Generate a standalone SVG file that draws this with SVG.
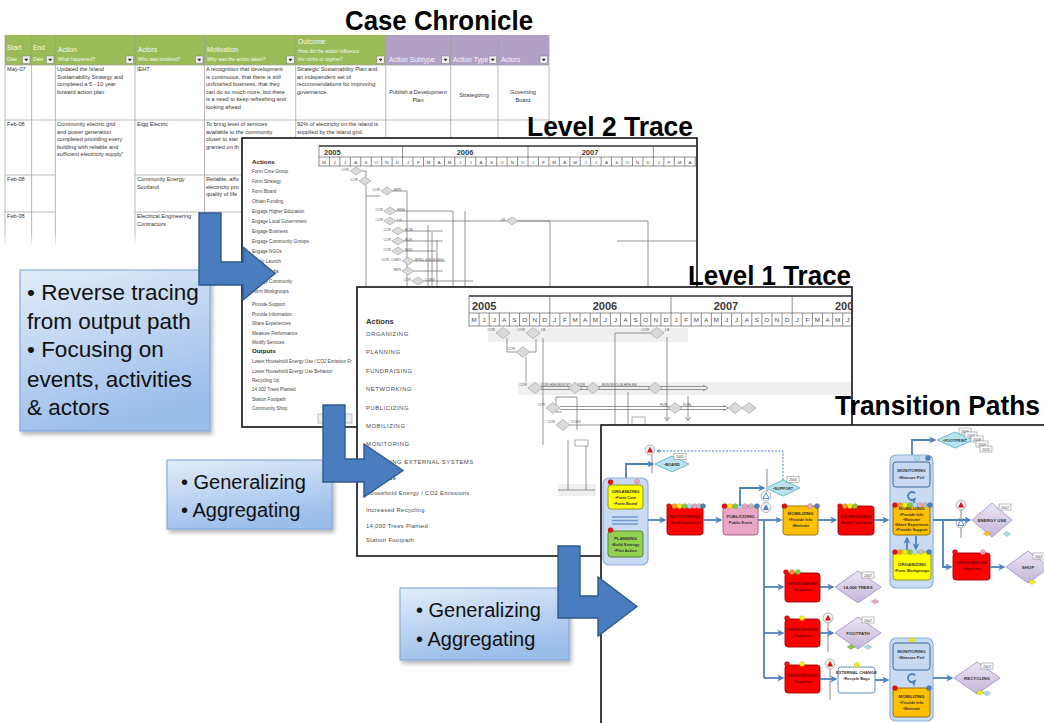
<svg xmlns="http://www.w3.org/2000/svg" width="1044" height="723" viewBox="0 0 1044 723">
<defs>
<style>
text{font-family:"Liberation Sans",Arial,sans-serif}
.title{font-weight:bold;fill:#000;font-size:27px}
.tx{font-size:5.6px;fill:#333}
.tc{font-size:5.6px;fill:#333;text-anchor:middle}
.h1{font-size:6.8px;fill:#f6f9ee}
.h2{font-size:4.9px;fill:#f6f9ee}
.hp{font-size:6.8px;fill:#f7f4fb}
.grid{stroke:#9c9c9c;stroke-width:0.7;fill:none}
.panel{fill:#fff;stroke:#111;stroke-width:1.6}
.l2{font-size:4.6px;fill:#444}
.l2b{font-size:6.2px;fill:#222;font-weight:bold}
.l1{font-size:5.9px;fill:#4a4a4a;letter-spacing:0.55px}
.l1b{font-size:7.6px;fill:#333;font-weight:bold}
.tl{fill:#fff;stroke:#444;stroke-width:0.6}
.tlt{stroke:#444;stroke-width:1.4}
.yr{font-weight:bold;fill:#3a3a3a}
.mo{fill:#444;text-anchor:middle}
.dg{fill:#dadada;stroke:#9a9a9a;stroke-width:0.6}
.dl{font-size:3.4px;fill:#555}
.dle{font-size:3.4px;fill:#555;text-anchor:end}
.gl{stroke:#7a7a7a;stroke-width:0.8;fill:none}
.band{fill:#efefef}
.note{fill:url(#noteGrad);stroke:#7aa0d4;stroke-width:1;filter:url(#soft)}
.nt{fill:#111}
.big{fill:#4a7dbd;stroke:#2f5a8f;stroke-width:1.4}
.con{stroke:#4f81bd;stroke-width:1.8;fill:none;marker-end:url(#ah)}
.conl{stroke:#4f81bd;stroke-width:1.8;fill:none}
.dash{stroke-width:1;stroke-dasharray:2 1.5}
.grp{fill:#c9dbf2;stroke:#8fb1dc;stroke-width:1.2}
.nred{fill:#ff0000;stroke:#a00000;stroke-width:0.9}
.nyel{fill:#ffff00;stroke:#8a8a1a;stroke-width:0.9}
.ngrn{fill:#92d050;stroke:#4f7a28;stroke-width:0.9}
.norg{fill:#ffc000;stroke:#8f6a00;stroke-width:0.9}
.npnk{fill:#eca6c8;stroke:#a5587a;stroke-width:0.9}
.nblu{fill:#c6d9f1;stroke:#2f5a8f;stroke-width:0.9}
.nwht{fill:#fff;stroke:#4f81bd;stroke-width:0.9}
.dcy{fill:#b9e3ef;stroke:#4bacc6;stroke-width:0.8}
.dlv{fill:url(#lavGrad);stroke:#9d8cbf;stroke-width:0.8}
.nx{font-size:4.4px;font-weight:bold;text-anchor:middle;fill:#333}
.nb{font-size:3.9px;font-weight:bold;text-anchor:middle;fill:#333}
.rx{fill:#6b0000}
.tag{fill:#fff;stroke:#777;stroke-width:0.5}
.tgt{font-size:3.6px;fill:#444;text-anchor:middle}
.pole{stroke:#c4c4c4;stroke-width:2;fill:none}
.ic{fill:#f4f4f4;stroke:#9a9a9a;stroke-width:0.7}
.kr{fill:#e31010}.ko{fill:#f59a2b}.ky{fill:#f2ee0c}.kg{fill:#8cc63f}.kc{fill:#a9dcea}.kp{fill:#e9a3c0}.ks{fill:#bdbdbd}.kb{fill:#4f81bd}
.dot{stroke:rgba(0,0,0,0.25);stroke-width:0.4}
</style>
<linearGradient id="noteGrad" x1="0" y1="0" x2="0.35" y2="1">
<stop offset="0" stop-color="#e2edfa"/>
<stop offset="1" stop-color="#9cbeea"/>
</linearGradient>
<linearGradient id="lavGrad" x1="0" y1="0" x2="0" y2="1">
<stop offset="0" stop-color="#ece6f4"/>
<stop offset="1" stop-color="#c4b5db"/>
</linearGradient>
<linearGradient id="fade" x1="0" y1="0" x2="0" y2="1">
<stop offset="0" stop-color="#fff" stop-opacity="0"/>
<stop offset="1" stop-color="#fff" stop-opacity="1"/>
</linearGradient>
<filter id="soft" x="-10%" y="-10%" width="125%" height="130%">
<feDropShadow dx="2" dy="3" stdDeviation="2" flood-color="#000" flood-opacity="0.3"/>
</filter>
<marker id="ah" viewBox="0 0 10 10" refX="8" refY="5" markerWidth="4" markerHeight="4" orient="auto">
<path d="M0 0L10 5L0 10L3 5Z" fill="#4f81bd"/>
</marker>
<g id="dd"><rect width="7.5" height="7.5" fill="#f0f0f0" stroke="#7a7a7a" stroke-width="0.5"/><path d="M1.8 2.8h4l-2 2.4z" fill="#222"/></g>
<path id="d2" d="M-6 0L0-4L6 0L0 4Z" class="dg"/>
<path id="d1" d="M-7 0L0-5.5L7 0L0 5.5Z" class="dg"/>
<path id="sd" d="M-4 0L0-2.6L4 0L0 2.6Z" stroke="rgba(0,0,0,0.3)" stroke-width="0.4"/>
<clipPath id="clipL2"><rect x="243" y="139" width="453" height="287"/></clipPath>
<clipPath id="clipL1"><rect x="358" y="288" width="493" height="267"/></clipPath>
<clipPath id="clipTP"><rect x="602" y="426" width="442" height="297"/></clipPath>
</defs>

<rect width="1044" height="723" fill="#fff"/>

<!-- spreadsheet of recorded actions -->
<g id="case-chronicle">
<rect x="5" y="35" width="380.8" height="30" fill="#9bbb59"/>
<rect x="385.8" y="35" width="163.2" height="30" fill="#b2a1c7"/>
<path class="grid" d="M5 65H549M5 120H549M5 175H55.4M135 175H549M5 212H55.4M135 212H549M5 35V245M31.6 35V245M55.4 35V245M135 35V245M204.5 35V245M295.7 35V245M385.8 35V245M450.7 35V245M498 35V245M549 35V245"/>
<text class="h1" x="7" y="50">Start</text><text class="h2" x="7" y="61">Date</text>
<text class="h1" x="33" y="50">End</text><text class="h2" x="33" y="61">Date</text>
<text class="h1" x="58" y="52">Action</text><text class="h2" x="58" y="61">What happened?</text>
<text class="h1" x="138" y="52">Actors</text><text class="h2" x="138" y="61">Who was involved?</text>
<text class="h1" x="207" y="52">Motivation</text><text class="h2" x="207" y="61">Why was the action taken?</text>
<text class="h1" x="298" y="44">Outcome</text><text class="h2" x="298" y="53">How did the action influence</text><text class="h2" x="298" y="61">the niche or regime?</text>
<text class="hp" x="389" y="62">Action Subtype</text>
<text class="hp" x="453" y="62">Action Type</text>
<text class="hp" x="501" y="62">Actors</text>
<use href="#dd" x="22.5" y="56"/><use href="#dd" x="46.4" y="56"/><use href="#dd" x="126" y="56"/><use href="#dd" x="195.5" y="56"/><use href="#dd" x="286.7" y="56"/><use href="#dd" x="376.8" y="56"/><use href="#dd" x="441.7" y="56"/><use href="#dd" x="489" y="56"/><use href="#dd" x="540" y="56"/>
<text class="tx" x="7" y="71">May-07</text>
<text class="tx" x="57" y="71">Updated the Island</text>
<text class="tx" x="57" y="78.5">Sustainability Strategy and</text>
<text class="tx" x="57" y="86">completed a 5 - 10 year</text>
<text class="tx" x="57" y="93.5">forward action plan</text>
<text class="tx" x="137" y="71">IEHT</text>
<text class="tx" x="206" y="71">A recognition that development</text>
<text class="tx" x="206" y="78.5">is continuous, that there is still</text>
<text class="tx" x="206" y="86">unfinished business, that they</text>
<text class="tx" x="206" y="93.5">can do so much more, but there</text>
<text class="tx" x="206" y="101">is a need to keep refreshing and</text>
<text class="tx" x="206" y="108.5">looking ahead.</text>
<text class="tx" x="297" y="71">Strategic Sustainability Plan and</text>
<text class="tx" x="297" y="78.5">an independent set of</text>
<text class="tx" x="297" y="86">recommendations for improving</text>
<text class="tx" x="297" y="93.5">governance.</text>
<text class="tc" x="418" y="94">Publish a Development</text>
<text class="tc" x="418" y="101.5">Plan</text>
<text class="tc" x="474" y="97">Strategizing</text>
<text class="tc" x="523" y="94">Governing</text>
<text class="tc" x="523" y="101.5">Board</text>
<text class="tx" x="7" y="126">Feb-08</text>
<text class="tx" x="57" y="126">Community electric grid</text>
<text class="tx" x="57" y="133.5">and power generation</text>
<text class="tx" x="57" y="141">completed providing every</text>
<text class="tx" x="57" y="148.5">building with reliable and</text>
<text class="tx" x="57" y="156">sufficient electricity supply"</text>
<text class="tx" x="137" y="126">Eigg Electric</text>
<text class="tx" x="206" y="126">To bring level of services</text>
<text class="tx" x="206" y="133.5">available to the community</text>
<text class="tx" x="206" y="141">closer to star</text>
<text class="tx" x="206" y="148.5">granted on th</text>
<text class="tx" x="297" y="126">92% of electricity on the island is</text>
<text class="tx" x="297" y="133.5">supplied by the island grid.</text>
<text class="tx" x="7" y="181">Feb-08</text>
<text class="tx" x="137" y="181">Community Energy</text>
<text class="tx" x="137" y="188.5">Scotland</text>
<text class="tx" x="206" y="181">Reliable, affo</text>
<text class="tx" x="206" y="188.5">electricity pro</text>
<text class="tx" x="206" y="196">quality of life</text>
<text class="tx" x="7" y="218">Feb-08</text>
<text class="tx" x="137" y="218">Electrical Engineering</text>
<text class="tx" x="137" y="225.5">Contractors</text>
<rect x="0" y="232" width="555" height="16" fill="url(#fade)"/>
</g>
<g id="title-case-chronicle"><text class="title" x="345" y="30" textLength="188" lengthAdjust="spacingAndGlyphs">Case Chronicle</text></g>

<!-- level 2 trace panel -->
<g id="level2-trace">
<rect class="panel" x="242" y="138" width="455" height="289"/>
<g clip-path="url(#clipL2)">
<rect class="tl" x="319" y="146" width="380" height="20"/>
<path class="tlt" d="M319 146H699"/>
<path class="tl" d="M319 157H699M402.6 146V166M528 146V166M653.4 146V166M329.45 157v9M339.9 157v9M350.35 157v9M360.8 157v9M371.25 157v9M381.7 157v9M392.15 157v9M413.05 157v9M423.5 157v9M433.95 157v9M444.4 157v9M454.85 157v9M465.3 157v9M475.75 157v9M486.2 157v9M496.65 157v9M507.1 157v9M517.55 157v9M538.45 157v9M548.9 157v9M559.35 157v9M569.8 157v9M580.25 157v9M590.7 157v9M601.15 157v9M611.6 157v9M622.05 157v9M632.5 157v9M642.95 157v9M663.85 157v9M674.3 157v9M684.75 157v9M695.2 157v9"/>
<text class="yr" x="324" y="154.5" font-size="7.5">2005</text>
<text class="yr" x="465" y="154.5" font-size="7.5" text-anchor="middle">2006</text>
<text class="yr" x="590" y="154.5" font-size="7.5" text-anchor="middle">2007</text>
<text class="mo" font-size="4.4" y="163.6" x="324.2 334.7 345.1 355.6 366.0 376.5 386.9 397.4 407.8 418.3 428.7 439.2 449.6 460.1 470.5 481.0 491.4 501.9 512.3 522.8 533.2 543.7 554.1 564.6 575.0 585.5 595.9 606.4 616.8 627.3 637.7 648.2 658.6 669.1 679.5 690.0">MJJASONDJFMAMJJASONDJFMAMJJASONDJFMA</text>
<text class="l2b" x="252" y="164">Actions</text>
<text class="l2" x="252" y="172.5">Form Core Group</text>
<text class="l2" x="252" y="182.5">Form Strategy</text>
<text class="l2" x="252" y="192.5">Form Board</text>
<text class="l2" x="252" y="202.5">Obtain Funding</text>
<text class="l2" x="252" y="212.5">Engage Higher Education</text>
<text class="l2" x="252" y="222.5">Engage Local Government</text>
<text class="l2" x="252" y="232.5">Engage Business</text>
<text class="l2" x="252" y="242.5">Engage Community Groups</text>
<text class="l2" x="252" y="252.5">Engage NGOs</text>
<text class="l2" x="252" y="262.5">Public Launch</text>
<text class="l2" x="252" y="272.5">Social Media</text>
<text class="l2" x="252" y="282.5">Engage Community</text>
<text class="l2" x="252" y="292.5">Form Workgroups</text>
<text class="l2" x="252" y="305.5">Provide Support</text>
<text class="l2" x="252" y="315.5">Provide Information</text>
<text class="l2" x="252" y="324.5">Share Experiences</text>
<text class="l2" x="252" y="334.5">Measure Performance</text>
<text class="l2" x="252" y="343.5">Modify Services</text>
<text class="l2b" x="252" y="353">Outputs</text>
<text class="l2" x="252" y="362.5">Lower Household Energy Use / CO2 Emission Fr</text>
<text class="l2" x="252" y="372.5">Lower Household Energy Use Behavior</text>
<text class="l2" x="252" y="381.5">Recycling Up</text>
<text class="l2" x="252" y="390.5">14,000 Trees Planted</text>
<text class="l2" x="252" y="400.5">Station Footpath</text>
<text class="l2" x="252" y="409.5">Community Shop</text>
<rect x="318" y="414" width="34" height="9" fill="#eee" stroke="#999" stroke-width="0.6"/>
<path class="gl" d="M362 171H366V177M366 185V300M393 191H407V300M396 211H453V300M396 221H550V300M518 221H648V287M404 231H443M404 241H443M404 251H436M414 261H445M414 271H443M424 281H473M617 241H697M428 225V300M432 232V300M437 240V300M465 211V300M366 196H380"/>
<use href="#d2" x="356" y="171"/><use href="#d2" x="365" y="181"/><use href="#d2" x="387" y="191"/><use href="#d2" x="390" y="211"/><use href="#d2" x="390" y="221"/><use href="#d2" x="398" y="231"/><use href="#d2" x="398" y="241"/><use href="#d2" x="398" y="251"/><use href="#d2" x="408" y="261"/><use href="#d2" x="408" y="271"/><use href="#d2" x="418" y="281"/><use href="#d2" x="512" y="221"/>
<text class="dle" x="349" y="170.5">COR</text>
<text class="dle" x="358" y="180.5">COR</text>
<text class="dle" x="380" y="190.5">COR</text><text class="dl" x="394" y="190.5">BRN</text>
<text class="dle" x="383" y="210.5">COR</text><text class="dl" x="397" y="210.5">HRH</text>
<text class="dle" x="383" y="220.5">COR</text><text class="dl" x="397" y="220.5">LG</text>
<text class="dle" x="391" y="230.5">COR</text><text class="dl" x="405" y="230.5">BCM</text>
<text class="dle" x="391" y="240.5">COR</text><text class="dl" x="405" y="240.5">BUS</text>
<text class="dle" x="391" y="250.5">COR</text><text class="dl" x="405" y="250.5">NGO</text>
<text class="dle" x="401" y="260.5">COR, CGRO</text><text class="dl" x="415" y="260.5">BRN,LG,BUS,NGO</text>
<text class="dle" x="401" y="270.5">BRN</text>
<text class="dle" x="411" y="280.5">COR</text><text class="dl" x="425" y="280.5">CONV</text>
<text class="dle" x="505" y="220.5">LB</text>
</g>
</g>
<g id="title-level2"><text class="title" x="527" y="136" textLength="166" lengthAdjust="spacingAndGlyphs">Level 2 Trace</text></g>

<!-- note: reverse tracing -->
<g id="note-reverse">
<rect class="note" x="20" y="270" width="190" height="161"/>
<text class="nt" font-size="22.5" x="27" y="300">• Reverse tracing</text>
<text class="nt" font-size="22.5" x="27" y="329">from output path</text>
<text class="nt" font-size="22.5" x="27" y="357">• Focusing on</text>
<text class="nt" font-size="22.5" x="27" y="387">events, activities</text>
<text class="nt" font-size="22.5" x="27" y="415">&amp; actors</text>
</g>

<g id="flow-arrow-1"><path class="big" d="M199 213H221V262H243V247L275 273.5L243 300V285H199Z"/></g>

<!-- level 1 trace panel -->
<g id="level1-trace">
<rect class="panel" x="357" y="287" width="495" height="269"/>
<g clip-path="url(#clipL1)">
<rect class="band" x="488" y="328" width="200" height="14"/>
<rect class="band" x="518" y="382" width="334" height="13"/>
<rect class="band" x="558" y="484" width="38" height="12"/>
<rect class="tl" x="469" y="296" width="390" height="30"/>
<path class="tlt" d="M469 296H860"/>
<path class="tl" d="M469 313H860M549.8 296V326M671 296V326M792.2 296V326M479.1 313v13M489.2 313v13M499.3 313v13M509.4 313v13M519.5 313v13M529.6 313v13M539.7 313v13M559.9 313v13M570 313v13M580.1 313v13M590.2 313v13M600.3 313v13M610.4 313v13M620.5 313v13M630.6 313v13M640.7 313v13M650.8 313v13M660.9 313v13M681.1 313v13M691.2 313v13M701.3 313v13M711.4 313v13M721.5 313v13M731.6 313v13M741.7 313v13M751.8 313v13M761.9 313v13M772 313v13M782.1 313v13M802.3 313v13M812.4 313v13M822.5 313v13M832.6 313v13M842.7 313v13"/>
<text class="yr" x="472" y="309.5" font-size="11">2005</text>
<text class="yr" x="605" y="309.5" font-size="11" text-anchor="middle">2006</text>
<text class="yr" x="726" y="309.5" font-size="11" text-anchor="middle">2007</text>
<text class="yr" x="835" y="309.5" font-size="11">2008</text>
<text class="mo" font-size="6.2" y="322.3" x="474.05 484.15 494.25 504.35 514.45 524.55 534.65 544.75 554.85 564.95 575.05 585.15 595.25 605.35 615.45 625.55 635.65 645.75 655.85 665.95 676.05 686.15 696.25 706.35 716.45 726.55 736.65 746.75 756.85 766.95 777.05 787.15 797.25 807.35 817.45 827.55 837.65 847.75">MJJASONDJFMAMJJASONDJFMAMJJASONDJFMAMJ</text>
<text class="l1b" x="366" y="324">Actions</text>
<text class="l1" x="366" y="335.5">ORGANIZING</text>
<text class="l1" x="366" y="354">PLANNING</text>
<text class="l1" x="366" y="372.5">FUNDRAISING</text>
<text class="l1" x="366" y="390.5">NETWORKING</text>
<text class="l1" x="366" y="409.5">PUBLICIZING</text>
<text class="l1" x="366" y="427.5">MOBILIZING</text>
<text class="l1" x="366" y="445.5">MONITORING</text>
<text class="l1" x="366" y="464">CHANGING EXTERNAL SYSTEMS</text>
<text class="l1" x="370" y="480" font-weight="bold">Outputs</text>
<text class="l1" x="366" y="495" style="letter-spacing:0.3px">Household Energy / CO2 Emissions</text>
<text class="l1" x="366" y="511.5" style="letter-spacing:0.3px">Increased Recycling</text>
<text class="l1" x="366" y="527.5" style="letter-spacing:0.3px">14,000 Trees Planted</text>
<text class="l1" x="366" y="541.5" style="letter-spacing:0.3px">Station Footpath</text>
<path class="gl" d="M507 338V352H516M530 352H536V339M526 357V382M543 338V445M615 333V445M615 333H650M667 337V420M688 396V420M628 392V425M568 440V490M586 440V490M558 490H595M556 412V397H577V430M556 412H562M570 425H600M541 386.5H706M541 389.5H706M560 406.5H726M560 409.5H726M703 385L708 388L703 391M723 405L728 408L723 411M664.5 417L667 421L669.5 417M685.5 417L688 421L690.5 417"/>
<rect x="632" y="417" width="13" height="8" fill="#fff" stroke="#777" stroke-width="0.6"/>
<rect x="575" y="440" width="13" height="6" fill="#fff" stroke="#777" stroke-width="0.6"/>
<use href="#d1" x="503" y="333"/><use href="#d1" x="533" y="333"/><use href="#d1" x="657" y="333"/><use href="#d1" x="523" y="352"/><use href="#d1" x="535" y="388"/><use href="#d1" x="575" y="388"/><use href="#d1" x="593" y="388"/><use href="#d1" x="655" y="388"/><use href="#d1" x="553" y="408"/><use href="#d1" x="675" y="408"/><use href="#d1" x="735" y="408"/><use href="#d1" x="749" y="408"/><use href="#d1" x="563" y="425"/>
<text class="dle" x="495" y="331">COR</text>
<text class="dle" x="525" y="331">COR</text><text class="dl" x="541" y="331">LB</text>
<text class="dle" x="649" y="331">COR</text><text class="dl" x="665" y="331">LB</text>
<text class="dle" x="515" y="350">COR</text>
<text class="dle" x="527" y="386">COR</text>
<text class="dl" x="541" y="386">COR,HRH,BUS,NT</text>
<text class="dle" x="585" y="386">COR</text>
<text class="dl" x="602" y="386">BUS,NGO,LB,HRH,EB</text>
<text class="dle" x="545" y="406">COR</text>
<text class="dle" x="667" y="406">PUB</text><text class="dl" x="683" y="406">PUBL</text>
<text class="dle" x="555" y="423">COR</text><text class="dl" x="571" y="423">CONV</text>
</g>
</g>
<g id="title-level1"><text class="title" x="688" y="285" textLength="163" lengthAdjust="spacingAndGlyphs">Level 1 Trace</text></g>
<g id="title-transition"><text class="title" x="835" y="415" textLength="205" lengthAdjust="spacingAndGlyphs">Transition Paths</text></g>

<g id="note-generalize-1">
<rect class="note" x="167" y="460" width="165" height="69"/>
<text class="nt" font-size="20" x="181" y="489">• Generalizing</text>
<text class="nt" font-size="20" x="181" y="517">• Aggregating</text>
</g>

<g id="flow-arrow-2"><path class="big" d="M323 405H345V459H364V444L403 470.5L364 497V482H323Z"/></g>

<!-- transition paths panel -->
<g id="transition-paths">
<rect class="panel" x="601" y="425" width="450" height="305"/>
<g clip-path="url(#clipTP)">

<g id="tp-start">
<rect class="grp" x="603" y="478" width="45" height="87" rx="6"/>
<rect class="nyel" x="608" y="485" width="35" height="24" rx="3"/>
<text class="nx" x="625.5" y="493">ORGANIZING</text>
<text class="nb" x="625.5" y="499">•Form Core</text>
<text class="nb" x="625.5" y="505">•Form Board</text>
<path d="M612 517H638M612 520.5H638M612 524H638" stroke="#6f9bd0" stroke-width="1.3"/>
<rect class="ngrn" x="608" y="531" width="35" height="26" rx="3"/>
<text class="nx" x="625.5" y="539.5">PLANNING</text>
<text class="nb" x="625.5" y="545.5">•Build Strategy</text>
<text class="nb" x="625.5" y="551.5">•Plan Action</text>
<circle class="dot kr" cx="610.5" cy="482" r="2.6"/><circle class="dot kp" cx="637" cy="481.5" r="2.6"/><circle class="dot kr" cx="610.5" cy="530" r="2.6"/>
</g>

<g id="tp-networking-1">
<rect class="nred" x="667" y="506" width="36" height="29" rx="3"/>
<text class="nx rx" x="685" y="518">NETWORKING</text>
<text class="nb rx" x="685" y="524">•Build Coalitions</text>
<circle class="dot kr" cx="669" cy="506" r="2.6"/><circle class="dot ko" cx="674.5" cy="506" r="2.6"/><circle class="dot ky" cx="679.5" cy="506" r="2.6"/><circle class="dot kg" cx="684.5" cy="506" r="2.6"/><circle class="dot kc" cx="689.5" cy="506" r="2.6"/><circle class="dot kp" cx="694.5" cy="506" r="2.6"/><circle class="dot ks" cx="699" cy="506" r="2.6"/><circle class="dot kb" cx="703" cy="506" r="2.6"/>
</g>

<g id="tp-publicizing">
<rect class="npnk" x="723" y="506" width="35" height="29" rx="3"/>
<text class="nx" x="740.5" y="518">PUBLICIZING</text>
<text class="nb" x="740.5" y="524">Public Event</text>
<circle class="dot kr" cx="724.5" cy="506" r="2.6"/><circle class="dot ky" cx="730" cy="506" r="2.6"/><circle class="dot kg" cx="735" cy="506" r="2.6"/><circle class="dot kc" cx="740" cy="506" r="2.6"/><circle class="dot kp" cx="745" cy="506" r="2.6"/><circle class="dot ks" cx="751" cy="506" r="2.6"/><circle class="dot kb" cx="757" cy="506" r="2.6"/>
</g>

<g id="tp-mobilizing-1">
<rect class="norg" x="783" y="506" width="35" height="29" rx="3"/>
<text class="nx" x="800.5" y="515">MOBILIZING</text>
<text class="nb" x="800.5" y="521">•Provide Info</text>
<text class="nb" x="800.5" y="527">•Motivate</text>
<circle class="dot kr" cx="784.5" cy="506" r="2.6"/><circle class="dot kp" cx="810" cy="506" r="2.6"/><circle class="dot kb" cx="817" cy="506" r="2.6"/>
</g>

<g id="tp-networking-2">
<rect class="nred" x="838" y="506" width="36" height="29" rx="3"/>
<text class="nx rx" x="856" y="518">NETWORKING</text>
<text class="nb rx" x="856" y="524">•Build Coalitions</text>
<circle class="dot kr" cx="840" cy="506" r="2.6"/><circle class="dot ko" cx="845" cy="506" r="2.6"/><circle class="dot ky" cx="850" cy="506" r="2.6"/><circle class="dot kg" cx="855" cy="506" r="2.6"/>
</g>

<g id="tp-cycle-1">
<rect class="grp" x="890" y="455" width="43" height="133" rx="6"/>
<rect class="nblu" x="893" y="462" width="37" height="25" rx="3"/>
<text class="nx" x="911.5" y="472">MONITORING</text>
<text class="nb" x="911.5" y="478.5">•Measure Perf</text>
<rect class="norg" x="893" y="505" width="37" height="30" rx="3"/>
<text class="nx" x="911.5" y="510">MOBILIZING</text>
<text class="nb" x="911.5" y="515.5">•Provide Info</text>
<text class="nb" x="911.5" y="520.5">•Motivate</text>
<text class="nb" x="911.5" y="525.5">•Share Experience</text>
<text class="nb" x="911.5" y="530.5">•Provide Support</text>
<rect class="nyel" x="893" y="552" width="38" height="28" rx="3"/>
<text class="nx" x="912" y="566">ORGANIZING</text>
<text class="nb" x="912" y="572">•Form Workgroups</text>
<path d="M915.1 493.4A4 4 0 1 0 915.1 498.6" stroke="#4f81bd" stroke-width="1.8" fill="none" marker-end="url(#ah)"/>
<circle class="dot kc" cx="917" cy="458" r="2.6"/><circle class="dot kb" cx="928" cy="458" r="2.6"/>
<circle class="dot kr" cx="895" cy="505" r="2.6"/><circle class="dot ko" cx="900" cy="505" r="2.6"/><circle class="dot ky" cx="905" cy="505" r="2.6"/><circle class="dot kg" cx="910" cy="505" r="2.6"/><circle class="dot kc" cx="915" cy="505" r="2.6"/><circle class="dot kp" cx="920" cy="505" r="2.6"/><circle class="dot ks" cx="925" cy="505" r="2.6"/><circle class="dot kb" cx="930" cy="505" r="2.6"/>
<circle class="dot kr" cx="895" cy="552" r="2.6"/><circle class="dot ko" cx="900" cy="552" r="2.6"/><circle class="dot ky" cx="905" cy="552" r="2.6"/><circle class="dot kg" cx="910" cy="552" r="2.6"/><circle class="dot kc" cx="915" cy="552" r="2.6"/><circle class="dot ks" cx="921" cy="552" r="2.6"/><circle class="dot kb" cx="929" cy="552" r="2.6"/>
</g>

<g id="tp-networking-shop">
<rect class="nred" x="953" y="553" width="37" height="27" rx="3"/>
<text class="nx rx" x="971.5" y="564">NETWORKING</text>
<text class="nb rx" x="971.5" y="570">•Negotiate</text>
<circle class="dot kr" cx="955" cy="552" r="2.6"/><circle class="dot kp" cx="983" cy="552" r="2.6"/>
</g>

<g id="tp-networking-3">
<rect class="nred" x="785" y="573" width="35" height="29" rx="3"/>
<text class="nx rx" x="802.5" y="585">NETWORKING</text>
<text class="nb rx" x="802.5" y="591">•Negotiate</text>
<circle class="dot kr" cx="786" cy="572" r="2.6"/><circle class="dot ko" cx="792" cy="572" r="2.6"/><circle class="dot kg" cx="798" cy="572" r="2.6"/>
</g>
<g id="tp-networking-4">
<rect class="nred" x="785" y="619" width="35" height="28" rx="3"/>
<text class="nx rx" x="802.5" y="631">NETWORKING</text>
<text class="nb rx" x="802.5" y="637">•Negotiate</text>
<circle class="dot kr" cx="787" cy="618" r="2.6"/><circle class="dot ky" cx="802" cy="618" r="2.6"/>
</g>
<g id="tp-networking-5">
<rect class="nred" x="785" y="665" width="35" height="28" rx="3"/>
<text class="nx rx" x="802.5" y="677">NETWORKING</text>
<text class="nb rx" x="802.5" y="683">•Negotiate</text>
<circle class="dot kr" cx="787" cy="664" r="2.6"/><circle class="dot ky" cx="802" cy="664" r="2.6"/>
</g>
<g id="tp-external-change">
<rect class="nwht" x="838" y="667" width="37" height="26" rx="3"/>
<text class="nx" x="856.5" y="673.5" style="font-size:4.1px">EXTERNAL CHANGE</text>
<text class="nb" x="856.5" y="680">•Recycle Bags</text>
<circle class="dot ky" cx="857" cy="665" r="2.6"/>
</g>
<g id="tp-cycle-2">
<rect class="grp" x="890" y="638" width="43" height="83" rx="6"/>
<rect class="nblu" x="893" y="643" width="37" height="27" rx="3"/>
<text class="nx" x="911.5" y="653">MONITORING</text>
<text class="nb" x="911.5" y="659">•Measure Perf</text>
<rect class="norg" x="893" y="688" width="37" height="29" rx="3"/>
<text class="nx" x="911.5" y="698">MOBILIZING</text>
<text class="nb" x="911.5" y="704">•Provide Info</text>
<text class="nb" x="911.5" y="710">•Motivate</text>
<path d="M915.1 675.4A4 4 0 1 0 915.1 680.6" stroke="#4f81bd" stroke-width="1.8" fill="none" marker-end="url(#ah)"/>
<circle class="dot ky" cx="912" cy="640" r="2.6"/><circle class="dot kr" cx="895" cy="688" r="2.6"/><circle class="dot kb" cx="929" cy="688" r="2.6"/>
</g>

<g id="tp-board"><path class="dcy" d="M655 464L672 456L689 464L672 472Z"/><text class="nb" x="672" y="465.5">•BOARD</text><rect class="tag" x="674" y="453.5" width="12" height="6"/><text class="tgt" x="680" y="458">2005</text></g>
<g id="tp-support"><path class="dcy" d="M766 488L783 480L800 488L783 496Z"/><text class="nb" x="783" y="489.5">•SUPPORT</text><rect class="tag" x="787" y="476.5" width="12" height="6"/><text class="tgt" x="793" y="481">2006</text></g>
<g id="tp-footprint"><path class="dcy" d="M937 440L955 432L973 440L955 448Z"/><text class="nb" x="955" y="441.5">•FOOTPRINT</text>
<rect class="tag" x="959" y="428" width="12" height="6"/><text class="tgt" x="965" y="432.5">2006</text>
<rect class="tag" x="965" y="432" width="12" height="6"/><text class="tgt" x="971" y="436.5">2007</text>
<rect class="tag" x="971" y="436" width="12" height="6"/><text class="tgt" x="977" y="440.5">2008</text>
<rect class="tag" x="976" y="441" width="12" height="6"/><text class="tgt" x="982" y="445.5">2009</text>
<rect class="tag" x="980" y="446" width="12" height="6"/><text class="tgt" x="986" y="450.5">2010</text></g>
<g id="tp-energy-use"><path class="dlv" d="M972 520L992 503L1012 520L992 537Z"/><text class="nx" x="992" y="521.5">ENERGY USE</text><rect class="tag" x="999" y="504" width="12" height="6"/><text class="tgt" x="1005" y="508.5">2007</text><use href="#sd" x="987" y="533.5" fill="#f7c21b"/><use href="#sd" x="1007" y="534" fill="#a9dcea"/></g>
<g id="tp-shop"><path class="dlv" d="M1006 567L1028 551L1050 567L1028 583Z"/><text class="nx" x="1028" y="568.5">SHOP</text><rect class="tag" x="1033" y="553" width="12" height="6"/><text class="tgt" x="1039" y="557.5">2007</text><use href="#sd" x="1032" y="582" fill="#f2ee0c"/></g>
<g id="tp-trees"><path class="dlv" d="M835 587L858 571L881 587L858 603Z"/><text class="nx" x="858" y="588.5">14,000 TREES</text><rect class="tag" x="862" y="572" width="12" height="6"/><text class="tgt" x="868" y="576.5">2007</text><use href="#sd" x="875" y="601.5" fill="#e9a3c0"/></g>
<g id="tp-footpath"><path class="dlv" d="M835 633L858 617L881 633L858 649Z"/><text class="nx" x="858" y="634.5">FOOTPATH</text><rect class="tag" x="862" y="617" width="12" height="6"/><text class="tgt" x="868" y="621.5">2007</text><use href="#sd" x="851" y="647" fill="#8cc63f"/><use href="#sd" x="868" y="647" fill="#a9dcea"/></g>
<g id="tp-recycling"><path class="dlv" d="M954 678L977 662L1000 678L977 694Z"/><text class="nx" x="977" y="679.5">RECYCLING</text><rect class="tag" x="981" y="663" width="12" height="6"/><text class="tgt" x="987" y="667.5">2007</text><use href="#sd" x="980" y="692.5" fill="#f2ee0c"/><use href="#sd" x="987" y="693.3" fill="#a9dcea"/></g>

<g id="tp-markers">
<path class="pole" d="M652 455V473M767 469V492M961 509V538M828 623V652M830 669V700"/>
<circle class="ic" cx="650" cy="450" r="5"/><path d="M647 452.5L650 446.8L653 452.5Z" fill="#e01010"/>
<circle class="ic" cx="766" cy="496" r="5"/><path d="M763 498.5L766 492.8L769 498.5Z" fill="#fff" stroke="#4f81bd" stroke-width="0.9"/>
<circle class="ic" cx="766" cy="507.5" r="5"/><path d="M763 510L766 504.3L769 510Z" fill="#4f81bd"/>
<circle class="ic" cx="961" cy="505" r="5"/><path d="M958 507.5L961 501.8L964 507.5Z" fill="#e01010"/>
<circle class="ic" cx="961" cy="523" r="5"/><path d="M958 525.5L961 519.8L964 525.5Z" fill="#fff" stroke="#4f81bd" stroke-width="0.9"/>
<circle class="ic" cx="828" cy="618" r="5"/><path d="M825 620.5L828 614.8L831 620.5Z" fill="#e01010"/>
<circle class="ic" cx="830" cy="664" r="5"/><path d="M827 666.5L830 660.8L833 666.5Z" fill="#e01010"/>
</g>

<g id="tp-connectors">
<path class="con" d="M648 520H665"/>
<path class="con" d="M703 520H721"/>
<path class="con" d="M758 520H781"/>
<path class="con" d="M818 520H836"/>
<path class="con" d="M874 520H888"/>
<path class="con" d="M626 478V464H653"/>
<path class="con" d="M740 506V488H764"/>
<path class="con dash" d="M783 480V451H657"/>
<path class="con" d="M912 455V440H935"/>
<path class="con" d="M933 520H970"/>
<path class="con" d="M943 520V567H951"/>
<path class="con" d="M990 567H1004"/>
<path class="conl" d="M764 520V678"/>
<path class="con" d="M764 587H783"/>
<path class="con" d="M764 633H783"/>
<path class="con" d="M764 678H783"/>
<path class="con" d="M820 587H833"/>
<path class="con" d="M820 633H833"/>
<path class="con" d="M820 679H836"/>
<path class="con" d="M875 680H888"/>
<path class="con" d="M933 678H952"/>
<path class="con" d="M907 550V538"/>
<path class="con" d="M916 536V549"/>
</g>
</g>
</g>

<g id="note-generalize-2">
<rect class="note" x="400" y="588" width="169" height="72"/>
<text class="nt" font-size="20" x="416" y="617">• Generalizing</text>
<text class="nt" font-size="20" x="416" y="646">• Aggregating</text>
</g>

<g id="flow-arrow-3"><path class="big" d="M558 546H580V596H598V577L637 606.5L598 636V618H558Z"/></g>
</svg>
